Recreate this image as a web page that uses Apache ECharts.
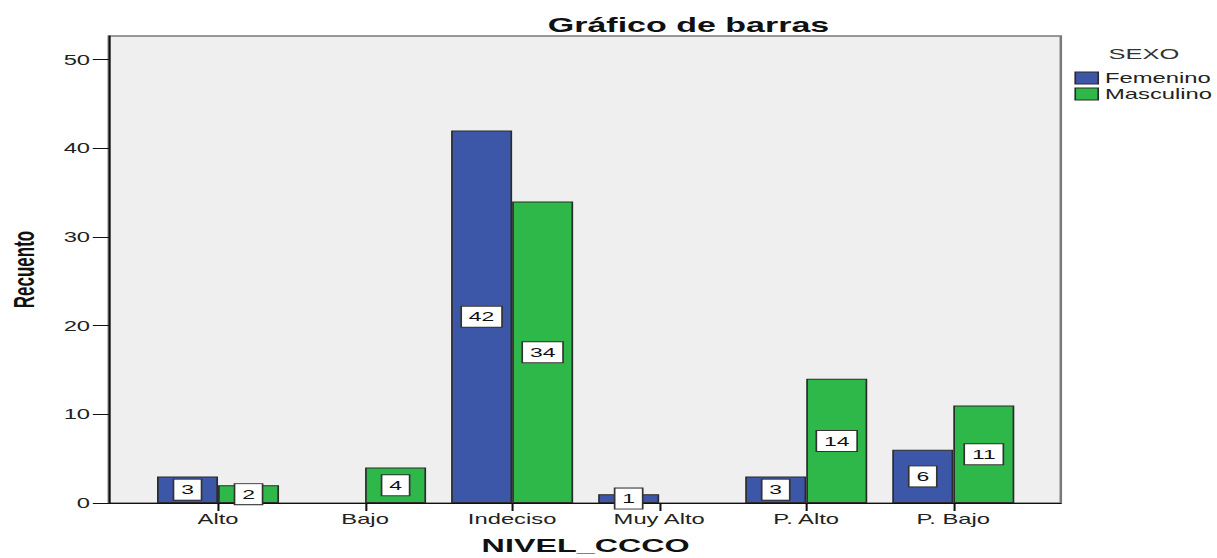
<!DOCTYPE html>
<html>
<head>
<meta charset="utf-8">
<script src="https://cdn.jsdelivr.net/npm/echarts@6/dist/echarts.min.js"></script>
<style>
  html, body { margin: 0; padding: 0; background: #ffffff; }
  #wrap { width: 1217px; height: 558px; overflow: hidden; position: relative; }
  #chart { width: 716px; height: 558px; transform: scaleX(1.7); transform-origin: 0 0; }
</style>
</head>
<body>
<div id="wrap"><div id="chart"></div></div>
<script>
// ---- data ----
const categories = ['Alto', 'Bajo', 'Indeciso', 'Muy Alto', 'P. Alto', 'P. Bajo'];
const femenino = [3, null, 42, 1, 3, 6];
const masculino = [2, 4, 34, null, 14, 11];
const seriesNames = ['Femenino', 'Masculino'];
const yMin = 0, yMax = 50, yInterval = 10;
const titleText = 'Gráfico de barras';
const legendTitle = 'SEXO';
const xName = 'NIVEL_CCCO';
const yName = 'Recuento';

// ---- chart ----
const FONT = "'Liberation Sans', Arial, sans-serif";
const chart = echarts.init(document.getElementById('chart'), null, { renderer: 'svg' });

const labelStyle = {
  show: true,
  position: 'inside',
  color: '#111',
  fontFamily: FONT,
  fontSize: 13.5,
  lineHeight: 15,
  backgroundColor: '#ffffff',
  borderColor: '#333',
  borderWidth: 1,
  padding: [3, 4, 2, 4]
};

const option = {
  backgroundColor: '#ffffff',
  animation: false,
  textStyle: { fontFamily: FONT },
  title: [
    {
      text: titleText,
      left: 400, top: 10, textAlign: 'center',
      textStyle: { fontFamily: FONT, fontSize: 20, fontWeight: 'bold', color: '#111' }
    },
    {
      text: legendTitle,
      left: 647, top: 41,
      textStyle: { fontFamily: FONT, fontSize: 15, fontWeight: 'normal', color: '#333' }
    }
  ],
  legend: {
    orient: 'vertical',
    left: 627, top: 66,
    icon: 'rect',
    itemWidth: 13.5, itemHeight: 12, itemGap: 2,
    itemStyle: { borderColor: '#2b2b2b', borderWidth: 1 },
    textStyle: { fontFamily: FONT, fontSize: 14, lineHeight: 14, color: '#222', padding: [0, 0, 0, -1] },
    data: seriesNames
  },
  grid: [
    { // plot frame / background
      left: 64, top: 36, width: 560, height: 467,
      outerBoundsMode: 'none', containLabel: false,
      show: true, backgroundColor: '#efefef', borderColor: '#7a7a7a', borderWidth: 1.5
    },
    { // data area
      left: 85, top: 59.5, width: 519, height: 443.5,
      outerBoundsMode: 'none', containLabel: false
    }
  ],
  xAxis: [
    {
      gridIndex: 0, type: 'value', min: 0, max: 1,
      axisLine: { show: true, onZero: false, lineStyle: { color: '#111', width: 1.2 } },
      axisTick: { show: false }, axisLabel: { show: false }, splitLine: { show: false }
    },
    {
      gridIndex: 1, type: 'category', data: categories,
      axisLine: { show: false },
      axisTick: { show: true, alignWithLabel: true, length: 8, lineStyle: { color: '#111', width: 1.2 } },
      axisLabel: { fontFamily: FONT, fontSize: 14, color: '#222', margin: 9 },
      name: xName, nameLocation: 'middle', nameGap: 33,
      nameTextStyle: { fontFamily: FONT, fontSize: 19, lineHeight: 19, fontWeight: 'bold', color: '#111' }
    }
  ],
  yAxis: [
    {
      gridIndex: 0, type: 'value', min: 0, max: 1,
      axisLine: { show: true, onZero: false, lineStyle: { color: '#111', width: 1.2 } },
      axisTick: { show: false }, axisLabel: { show: false }, splitLine: { show: false },
      name: yName, nameLocation: 'middle', nameGap: 41, nameRotate: 90,
      nameTextStyle: { fontFamily: FONT, fontSize: 17, fontWeight: 'bold', color: '#111' }
    },
    {
      gridIndex: 1, type: 'value', min: yMin, max: yMax, interval: yInterval,
      offset: 21,
      axisLine: { show: false },
      axisTick: { show: true, length: 9.4, lineStyle: { color: '#111', width: 1 } },
      axisLabel: { fontFamily: FONT, fontSize: 14, color: '#222', margin: 11 },
      splitLine: { show: false }
    }
  ],
  series: [
    {
      name: seriesNames[0], type: 'bar', xAxisIndex: 1, yAxisIndex: 1,
      data: femenino,
      barGap: '0%', barCategoryGap: '17%',
      itemStyle: { color: '#3d57a8', borderColor: '#2b2b2b', borderWidth: 1 },
      label: labelStyle
    },
    {
      name: seriesNames[1], type: 'bar', xAxisIndex: 1, yAxisIndex: 1,
      data: masculino,
      barGap: '0%', barCategoryGap: '17%',
      itemStyle: { color: '#2fb84a', borderColor: '#2b2b2b', borderWidth: 1 },
      label: labelStyle
    }
  ]
};
chart.setOption(option);
</script>
</body>
</html>
